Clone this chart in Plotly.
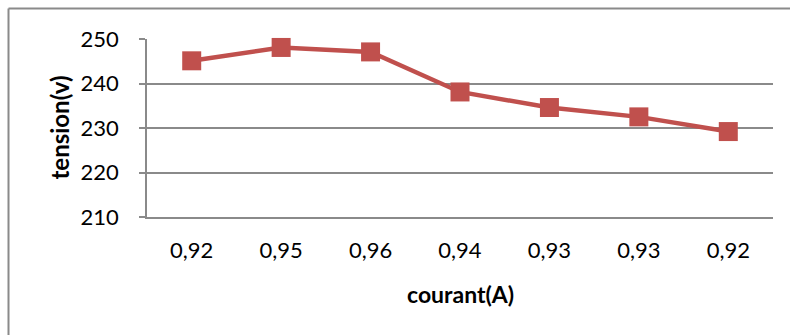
import plotly.graph_objects as go

courant_labels = ["0,92", "0,95", "0,96", "0,94", "0,93", "0,93", "0,92"]
tension_values = [245.1, 248.1, 247.1, 238.1, 234.6, 232.5, 229.2]
y_ticks = [210, 220, 230, 240, 250]

W, H = 790, 335
L, R, T, B = 147, 17, 39, 118
pw, ph = W - L - R, H - T - B

def px(x):
    return (x - L) / pw

def py(y):
    return (H - B - y) / ph

positions = list(range(len(courant_labels)))

fig = go.Figure()
fig.add_trace(go.Scatter(
    x=positions, y=tension_values, mode="lines+markers",
    line=dict(color="#C0504D", width=4.5),
    marker=dict(symbol="square", size=19, color="#C0504D"),
    cliponaxis=False, showlegend=False,
))

font_family = "Lato, 'Open Sans', sans-serif"
grid_col = "#8a8a8a"

fig.update_layout(
    width=W, height=H,
    margin=dict(l=L, r=R, t=T, b=B, pad=0),
    paper_bgcolor="white", plot_bgcolor="white",
    font=dict(family=font_family, size=22, color="#000000"),
    xaxis=dict(
        range=[-0.5, len(courant_labels) - 0.5],
        tickvals=positions, ticktext=courant_labels,
        showgrid=False, zeroline=False,
        showline=True, linecolor=grid_col, linewidth=1.5,
        ticks="", ticklabelstandoff=13,
        tickfont=dict(size=22, family=font_family),
        fixedrange=True,
    ),
    yaxis=dict(
        range=[210, 250], tickvals=y_ticks,
        showgrid=True, gridcolor=grid_col, gridwidth=1.5,
        zeroline=False,
        showline=True, linecolor=grid_col, linewidth=1.5,
        ticks="outside", ticklen=6, tickcolor=grid_col, tickwidth=1.5,
        ticklabelstandoff=16,
        tickfont=dict(size=22, family=font_family),
        fixedrange=True,
    ),
    annotations=[
        dict(text="<b>courant(A)</b>", xref="paper", yref="paper",
             x=px(460), y=py(294), showarrow=False,
             xanchor="center", yanchor="middle",
             font=dict(size=23, family=font_family)),
        dict(text="<b>tension(v)</b>", xref="paper", yref="paper",
             x=px(58.5), y=py(128), showarrow=False, textangle=-90,
             xanchor="center", yanchor="middle",
             font=dict(size=24, family=font_family)),
    ],
    shapes=[
        dict(type="line", xref="paper", yref="paper",
             x0=px(8.5), x1=px(800), y0=py(8.5), y1=py(8.5),
             line=dict(color=grid_col, width=2)),
        dict(type="line", xref="paper", yref="paper",
             x0=px(8.5), x1=px(8.5), y0=py(8.5), y1=py(345),
             line=dict(color=grid_col, width=2)),
    ],
)

fig.write_html("out.html")
